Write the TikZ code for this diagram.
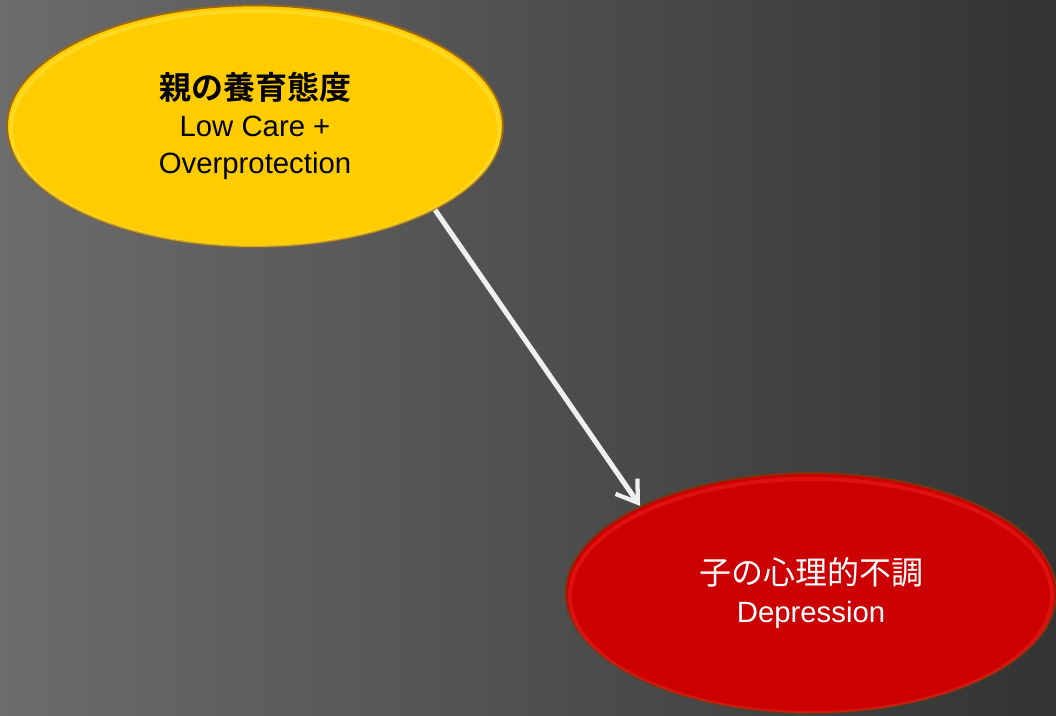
\documentclass[tikz,border=0pt]{standalone}
\usepackage{fontspec}
\setmainfont{Liberation Sans}
\newfontfamily\jp{Noto Sans CJK JP}
\newfontfamily\jpb{Noto Sans CJK JP Bold}
\usetikzlibrary{arrows.meta,shapes.geometric}
\definecolor{bgL}{HTML}{6C6C6C}
\definecolor{bgR}{HTML}{333333}
\definecolor{yel}{HTML}{FFCC00}
\definecolor{yelrim}{HTML}{9A6818}
\definecolor{yelhi}{HTML}{FFE640}
\definecolor{redf}{HTML}{CC0000}
\definecolor{redrim}{HTML}{7A3410}
\definecolor{redhi}{HTML}{F02020}
\definecolor{arrw}{HTML}{F0F0F0}
\tikzset{
  bubble/.style={ellipse, inner sep=0pt, minimum width=372pt, minimum height=181pt, line width=1.5pt, align=center, font=\fontsize{22}{28}\selectfont},
  hiring/.style={line width=3pt, opacity=0.5},
  link/.style={draw=arrw, line width=3.8pt, -{Straight Barb[length=15pt,width=20pt,line width=3.2pt]}}
}
\begin{document}
\begin{tikzpicture}[x=0.75pt,y=-0.75pt]
\useasboundingbox (0,0) rectangle (1056,715);
\shade[left color=bgL, right color=bgR] (0,0) rectangle (1056,715);
% yellow node
\node[bubble, fill=yel, draw=yelrim, text=black] (parent) at (255,126)
  {{\jpb\fontsize{24}{28}\selectfont 親の養育態度}\\Low Care +\\Overprotection};
\begin{scope}
\clip (255,126) ellipse [x radius=248, y radius=121];
\draw[yelhi, hiring] (255,129) ellipse [x radius=244, y radius=118];
\end{scope}
% red node
\node[bubble, fill=redf, draw=redrim, text=white, minimum width=368pt, minimum height=180pt] (child) at (811,593)
  {{\jp\fontsize{24}{28}\selectfont 子の心理的不調}\\Depression};
\begin{scope}
\clip (811,593) ellipse [x radius=245, y radius=120];
\draw[redhi, hiring] (811,596) ellipse [x radius=241, y radius=117];
\end{scope}
% arrow
\draw[link] (parent.-25.5) -- (child.153.7);
\end{tikzpicture}
\end{document}
